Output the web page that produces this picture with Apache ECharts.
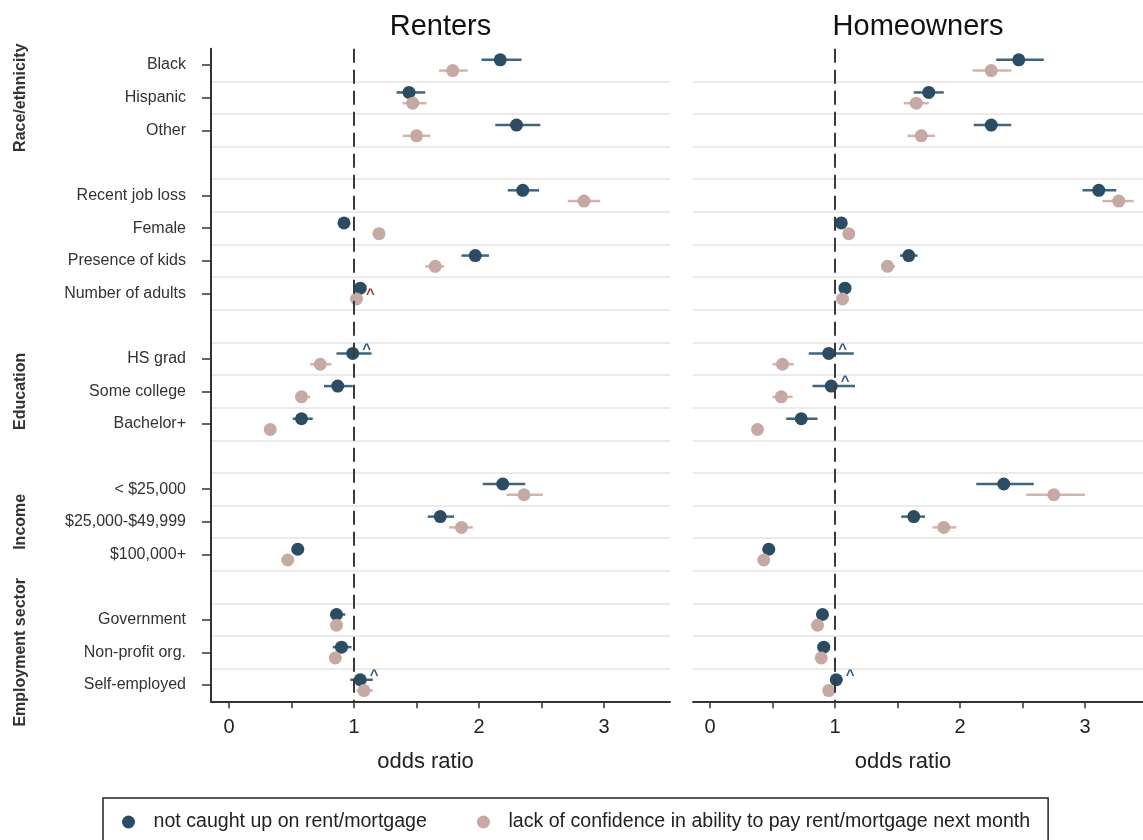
<!DOCTYPE html>
<html>
<head>
<meta charset="utf-8">
<script src="https://cdn.jsdelivr.net/npm/echarts@6/dist/echarts.min.js"></script>
<style>
  html, body { margin: 0; padding: 0; background: #fff; }
  #main { width: 1143px; height: 840px; }
</style>
</head>
<body>
<div id="main"></div>
<script>
// rows of the plot, '' = spacer row between groups
const rows = ['Black', 'Hispanic', 'Other', '',
  'Recent job loss', 'Female', 'Presence of kids', 'Number of adults', '',
  'HS grad', 'Some college', 'Bachelor+', '',
  '< $25,000', '$25,000-$49,999', '$100,000+', '',
  'Government', 'Non-profit org.', 'Self-employed'];
const groups = [
  { name: 'Race/ethnicity', row: 1 },
  { name: 'Education', row: 10 },
  { name: 'Income', row: 14 },
  { name: 'Employment sector', row: 18 }
];
const panels = ['Renters', 'Homeowners'];
const seriesNames = ['not caught up on rent/mortgage', 'lack of confidence in ability to pay rent/mortgage next month'];
const xTickLabels = [0, 1, 2, 3];
const xTicks = [0, 0.5, 1, 1.5, 2, 2.5, 3];

// Renters - not caught up
const rentBehind   = [2.17, 1.44, 2.30, null, 2.35, 0.92, 1.97, 1.05, null, 0.99, 0.87, 0.58, null, 2.19, 1.69, 0.55, null, 0.86, 0.90, 1.05];
const rentBehindLo = [2.02, 1.34, 2.13, null, 2.23, 0.89, 1.86, 1.02, null, 0.86, 0.76, 0.51, null, 2.03, 1.59, 0.52, null, 0.81, 0.83, 0.97];
const rentBehindHi = [2.34, 1.57, 2.49, null, 2.48, 0.95, 2.08, 1.08, null, 1.14, 0.99, 0.67, null, 2.37, 1.80, 0.58, null, 0.93, 0.98, 1.15];
// Renters - lack of confidence
const rentConf   = [1.79, 1.47, 1.50, null, 2.84, 1.20, 1.65, 1.02, null, 0.73, 0.58, 0.33, null, 2.36, 1.86, 0.47, null, 0.86, 0.85, 1.08];
const rentConfLo = [1.68, 1.39, 1.39, null, 2.71, 1.17, 1.57, 0.99, null, 0.65, 0.53, 0.31, null, 2.22, 1.76, 0.45, null, 0.83, 0.81, 1.02];
const rentConfHi = [1.91, 1.58, 1.61, null, 2.97, 1.23, 1.72, 1.05, null, 0.82, 0.65, 0.35, null, 2.51, 1.95, 0.49, null, 0.89, 0.90, 1.15];
// Homeowners - not caught up
const ownBehind   = [2.47, 1.75, 2.25, null, 3.11, 1.05, 1.59, 1.08, null, 0.95, 0.97, 0.73, null, 2.35, 1.63, 0.47, null, 0.90, 0.91, 1.01];
const ownBehindLo = [2.29, 1.63, 2.11, null, 2.98, 1.02, 1.52, 1.05, null, 0.79, 0.82, 0.61, null, 2.13, 1.53, 0.45, null, 0.85, 0.86, 0.96];
const ownBehindHi = [2.67, 1.87, 2.41, null, 3.25, 1.08, 1.66, 1.11, null, 1.15, 1.16, 0.86, null, 2.59, 1.72, 0.49, null, 0.94, 0.96, 1.06];
// Homeowners - lack of confidence
const ownConf   = [2.25, 1.65, 1.69, null, 3.27, 1.11, 1.42, 1.06, null, 0.58, 0.57, 0.38, null, 2.75, 1.87, 0.43, null, 0.86, 0.89, 0.95];
const ownConfLo = [2.10, 1.55, 1.58, null, 3.14, 1.08, 1.37, 1.03, null, 0.50, 0.50, 0.35, null, 2.53, 1.78, 0.41, null, 0.83, 0.86, 0.92];
const ownConfHi = [2.41, 1.75, 1.80, null, 3.39, 1.14, 1.48, 1.09, null, 0.67, 0.66, 0.41, null, 3.00, 1.97, 0.45, null, 0.89, 0.92, 0.99];

// "^" flags: panel, series (0 behind, 1 confidence), row
const flags = [
  { panel: 0, s: 1, row: 7, red: true },
  { panel: 0, s: 0, row: 9 },
  { panel: 0, s: 0, row: 19 },
  { panel: 1, s: 0, row: 9 },
  { panel: 1, s: 0, row: 10 },
  { panel: 1, s: 0, row: 19 }
];

const NAVY = '#2b4c62';
const PINK = '#c7a9a4';
const barColors = ['#3f657e', '#d2b4ae'];
const dotColors = [NAVY, PINK];
const rowShift = [-0.16, 0.17];

const gridTop = 48.7, gridH = 652.6;
const rowH = gridH / rows.length;
const font = 'Arial, "Liberation Sans", sans-serif';

const chart = echarts.init(document.getElementById('main'));

const panelData = [
  [[rentBehind, rentBehindLo, rentBehindHi], [rentConf, rentConfLo, rentConfHi]],
  [[ownBehind, ownBehindLo, ownBehindHi], [ownConf, ownConfLo, ownConfHi]]
];

const series = [];
panelData.forEach(function (pd, p) {
  pd.forEach(function (arrs, s) {
    const est = arrs[0], lo = arrs[1], hi = arrs[2];
    const bars = [], dots = [];
    for (let i = 0; i < rows.length; i++) {
      if (est[i] == null) continue;
      const y = i + 0.5 + rowShift[s];
      bars.push([lo[i], hi[i], y]);
      const item = { value: [est[i], y] };
      const f = flags.find(function (d) { return d.panel === p && d.s === s && d.row === i; });
      if (f) {
        item.label = {
          show: true, formatter: '^', position: 'inside', offset: [14, -4],
          color: f.red ? '#a63a2a' : '#2d5a80', fontSize: 15, fontWeight: 'bold', fontFamily: font
        };
      }
      dots.push(item);
    }
    series.push({
      type: 'custom',
      xAxisIndex: p,
      yAxisIndex: p === 0 ? 1 : 2,
      encode: { x: [0, 1], y: 2 },
      silent: true,
      z: 2,
      renderItem: function (params, api) {
        const a = api.coord([api.value(0), api.value(2)]);
        const b = api.coord([api.value(1), api.value(2)]);
        return {
          type: 'line',
          shape: { x1: a[0], y1: a[1], x2: b[0], y2: b[1] },
          style: { stroke: barColors[s], lineWidth: 2.5 }
        };
      },
      data: bars
    });
    const sc = {
      type: 'scatter',
      name: seriesNames[s],
      xAxisIndex: p,
      yAxisIndex: p === 0 ? 1 : 2,
      symbol: 'circle',
      symbolSize: 13,
      itemStyle: { color: dotColors[s], opacity: 1 },
      z: 3,
      data: dots
    };
    if (s === 0) {
      sc.markLine = {
        silent: true,
        symbol: ['none', 'none'],
        label: { show: false },
        lineStyle: { type: [14, 7], color: '#3a3a3a', width: 2 },
        data: [{ xAxis: 1 }]
      };
    }
    series.push(sc);
  });
});

function valueY(gridIndex) {
  return {
    type: 'value', gridIndex: gridIndex, min: 0, max: rows.length, interval: 1, inverse: true,
    axisLine: { show: false, onZero: false }, axisTick: { show: false }, axisLabel: { show: false },
    splitLine: { show: true, showMinLine: false, showMaxLine: false, lineStyle: { color: '#ebebeb', width: 2 } }
  };
}

function xAx(gridIndex, min, max) {
  return {
    type: 'value', gridIndex: gridIndex, min: min, max: max, position: 'bottom',
    axisLine: { show: true, onZero: false, lineStyle: { color: '#333', width: 2 } },
    axisTick: { show: true, customValues: xTicks, length: 7, lineStyle: { color: '#333', width: 1.5 } },
    axisLabel: { customValues: xTickLabels, fontSize: 20, color: '#222', margin: 16, fontFamily: font },
    splitLine: { show: false },
    name: 'odds ratio', nameLocation: 'middle', nameGap: 50,
    nameTextStyle: { fontSize: 22, color: '#222', fontFamily: font, padding: [0, 30, 0, 0] }
  };
}

const graphic = [];
panels.forEach(function (t, p) {
  graphic.push({
    type: 'text', x: p === 0 ? 440.5 : 918, y: 27,
    style: { text: t, textAlign: 'center', textVerticalAlign: 'middle', fontSize: 29, fill: '#111', fontFamily: font }
  });
});
groups.forEach(function (g) {
  graphic.push({
    type: 'text', x: 21, y: gridTop + (g.row + 0.5) * rowH, rotation: Math.PI / 2,
    style: { text: g.name, textAlign: 'center', textVerticalAlign: 'middle', fontSize: 16, fontWeight: 'bold', fill: '#333', fontFamily: font }
  });
});

chart.setOption({
  animation: false,
  backgroundColor: '#fff',
  textStyle: { fontFamily: font },
  grid: [
    { left: 211, top: gridTop, width: 459, height: gridH },
    { left: 693, top: gridTop, width: 450, height: gridH }
  ],
  xAxis: [xAx(0, -0.144, 3.528), xAx(1, -0.136, 3.464)],
  yAxis: [
    {
      type: 'category', gridIndex: 0, data: rows, inverse: true, boundaryGap: true, position: 'left',
      axisLine: { show: true, onZero: false, lineStyle: { color: '#333', width: 2 } },
      axisTick: {
        show: true, alignWithLabel: true, length: 9, lineStyle: { color: '#333', width: 1.5 },
        interval: function (i, v) { return v !== ''; }
      },
      axisLabel: { interval: 0, fontSize: 16, color: '#333', margin: 25, fontFamily: font },
      splitLine: { show: false }
    },
    valueY(0),
    valueY(1)
  ],
  legend: {
    left: 103, top: 798,
    data: seriesNames,
    icon: 'circle',
    itemWidth: 40, itemHeight: 13, itemGap: 50,
    padding: [14, 18, 20, 19],
    borderColor: '#222', borderWidth: 1.5,
    textStyle: { fontSize: 19.6, color: '#222', fontFamily: font }
  },
  graphic: graphic,
  series: series
});
</script>
</body>
</html>
